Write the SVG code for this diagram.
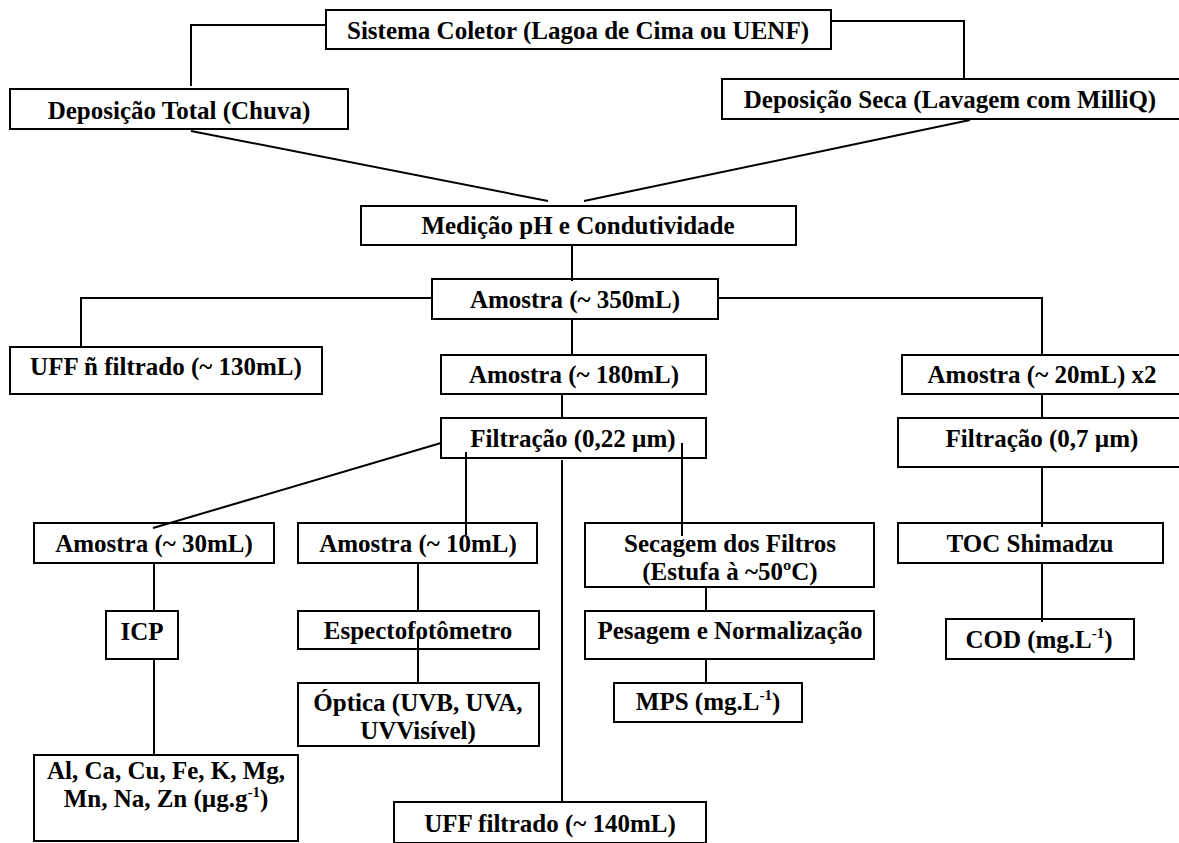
<svg xmlns="http://www.w3.org/2000/svg" width="1179" height="843" viewBox="0 0 1179 843" font-family="Liberation Serif, Times New Roman, DejaVu Serif, serif" font-weight="bold" font-size="25">
<style>
rect{fill:#fff;stroke:#000;stroke-width:2}
text{fill:#000;text-anchor:middle}
.sup{font-size:15px}
#connectors line,#connectors polyline{stroke:#000;stroke-width:2;fill:none}
</style>
<rect x="0" y="0" width="1179" height="843" style="fill:#fff;stroke:none"/>
<g id="sistema"><rect x="326" y="10" width="505" height="39"/><text x="578" y="39">Sistema Coletor (Lagoa de Cima ou UENF)</text></g>
<g id="dep-total"><rect x="10" y="89" width="338" height="40"/><text x="179" y="119">Deposição Total (Chuva)</text></g>
<g id="dep-seca"><rect x="722" y="79" width="470" height="40"/><text x="950" y="108">Deposição Seca (Lavagem com MilliQ)</text></g>
<g id="medicao"><rect x="361" y="206" width="435" height="39"/><text x="578" y="234">Medição pH e Condutividade</text></g>
<g id="amostra350"><rect x="432" y="279" width="286" height="40"/><text x="575" y="308">Amostra (~ 350mL)</text></g>
<g id="uff-nao"><rect x="10" y="347" width="312" height="47"/><text x="166" y="375">UFF ñ filtrado (~ 130mL)</text></g>
<g id="amostra180"><rect x="441" y="355" width="265" height="39"/><text x="574" y="383">Amostra (~ 180mL)</text></g>
<g id="amostra20"><rect x="902" y="355" width="290" height="39"/><text x="1042" y="383">Amostra (~ 20mL) x2</text></g>
<g id="filtracao022"><rect x="441" y="418" width="265" height="40"/><text x="573" y="447">Filtração (0,22 µm)</text></g>
<g id="filtracao07"><rect x="898" y="418" width="294" height="49"/><text x="1042" y="447">Filtração (0,7 µm)</text></g>
<g id="amostra30"><rect x="34" y="523" width="240" height="40"/><text x="154" y="552">Amostra (~ 30mL)</text></g>
<g id="amostra10"><rect x="298" y="523" width="239" height="40"/><text x="418" y="552">Amostra (~ 10mL)</text></g>
<g id="secagem"><rect x="585" y="523" width="289" height="64"/><text x="730" y="552">Secagem dos Filtros</text><text x="730" y="580">(Estufa à ~50ºC)</text></g>
<g id="toc"><rect x="898" y="523" width="265" height="40"/><text x="1030" y="552">TOC Shimadzu</text></g>
<g id="icp"><rect x="106" y="611" width="72" height="48"/><text x="142" y="640">ICP</text></g>
<g id="espectro"><rect x="298" y="611" width="241" height="38"/><text x="418" y="639">Espectofotômetro</text></g>
<g id="pesagem"><rect x="585" y="611" width="289" height="48"/><text x="730" y="639">Pesagem e Normalização</text></g>
<g id="cod"><rect x="946" y="619" width="188" height="40"/><text x="1039" y="648">COD (mg.L<tspan class="sup" dy="-10">-1</tspan><tspan dy="10">)</tspan></text></g>
<g id="optica"><rect x="298" y="683" width="241" height="63"/><text x="418" y="711">Óptica (UVB, UVA,</text><text x="418" y="739">UVVisível)</text></g>
<g id="mps"><rect x="614" y="683" width="188" height="39"/><text x="708" y="710">MPS (mg.L<tspan class="sup" dy="-10">-1</tspan><tspan dy="10">)</tspan></text></g>
<g id="metais"><rect x="34" y="755" width="264" height="86"/><text x="166" y="779">Al, Ca, Cu, Fe, K, Mg,</text><text x="166" y="807">Mn, Na, Zn (µg.g<tspan class="sup" dy="-10">-1</tspan><tspan dy="10">)</tspan></text></g>
<g id="uff-filtrado"><rect x="394" y="802" width="312" height="41"/><text x="550" y="832">UFF filtrado (~ 140mL)</text></g>
<g id="connectors">
<polyline points="326,25 191,25 191,86"/>
<polyline points="831,21 964,21 964,80"/>
<line x1="191" y1="131" x2="548" y2="201"/>
<line x1="970" y1="120" x2="584" y2="201"/>
<line x1="572" y1="246" x2="572" y2="281"/>
<polyline points="432,298 81,298 81,346"/>
<polyline points="718,298 1042,298 1042,356"/>
<line x1="572" y1="320" x2="572" y2="355"/>
<line x1="562" y1="395" x2="562" y2="418"/>
<line x1="441" y1="443" x2="153" y2="528"/>
<line x1="466" y1="452" x2="466" y2="535"/>
<line x1="562" y1="460" x2="562" y2="802"/>
<line x1="682" y1="443" x2="682" y2="536"/>
<line x1="1042" y1="395" x2="1042" y2="418"/>
<line x1="1042" y1="468" x2="1042" y2="527"/>
<line x1="1042" y1="564" x2="1042" y2="622"/>
<line x1="154" y1="564" x2="154" y2="611"/>
<line x1="154" y1="660" x2="154" y2="755"/>
<line x1="418" y1="564" x2="418" y2="611"/>
<line x1="418" y1="637" x2="418" y2="683"/>
<line x1="706" y1="588" x2="706" y2="611"/>
<line x1="706" y1="660" x2="706" y2="683"/>
</g>
</svg>
